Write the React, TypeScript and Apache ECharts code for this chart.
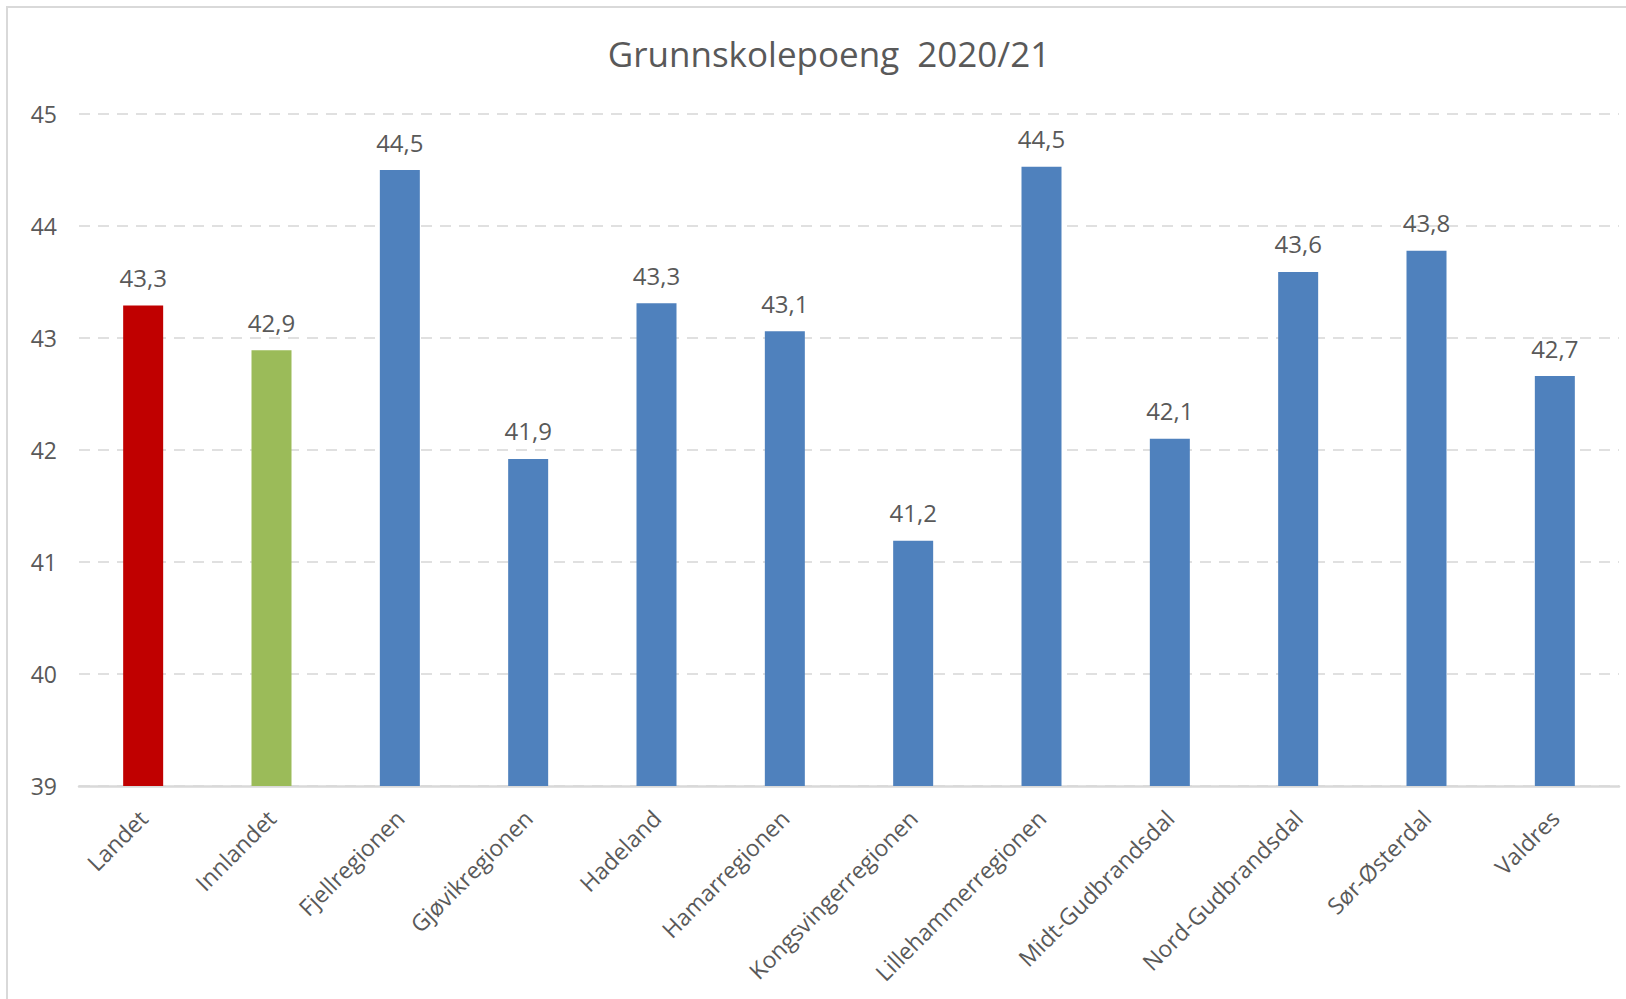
import React, { useEffect, useRef } from "react";
import * as echarts from "echarts";

const TITLE = "Grunnskolepoeng  2020/21";
const categories = [
  "Landet",
  "Innlandet",
  "Fjellregionen",
  "Gjøvikregionen",
  "Hadeland",
  "Hamarregionen",
  "Kongsvingerregionen",
  "Lillehammerregionen",
  "Midt-Gudbrandsdal",
  "Nord-Gudbrandsdal",
  "Sør-Østerdal",
  "Valdres",
];
const values = [43.29, 42.89, 44.5, 41.92, 43.31, 43.06, 41.19, 44.53, 42.1, 43.59, 43.78, 42.66];
const yMin = 39;
const yMax = 45;
const yStep = 1;

const COLOR_NATION = "#C00000";
const COLOR_COUNTY = "#9BBB59";
const COLOR_REGION = "#4F81BD";
const colorFor = (name: string) =>
  name === "Landet" ? COLOR_NATION : name === "Innlandet" ? COLOR_COUNTY : COLOR_REGION;

const TEXT = "#595959";
const FONT = "'Open Sans', sans-serif";

export default function App() {
  const ref = useRef<HTMLDivElement>(null);
  useEffect(() => {
    if (!ref.current) return;
    const chart = echarts.init(ref.current, undefined, { renderer: "svg" });
    chart.setOption({
      animation: false,
      backgroundColor: "#ffffff",
      textStyle: { fontFamily: FONT },
      title: {
        text: TITLE,
        left: 824,
        top: 31,
        textAlign: "center",
        textStyle: { fontFamily: FONT, fontSize: 35, fontWeight: "normal", color: TEXT },
      },
      graphic: [
        {
          type: "rect",
          shape: { x: 7, y: 7, width: 1700, height: 1100 },
          style: { fill: "none", stroke: "#D9D9D9", lineWidth: 2 },
          silent: true,
          z: -1,
        },
      ],
      grid: { left: 79, right: 7, top: 114, bottom: 213, containLabel: false },
      xAxis: {
        type: "category",
        data: categories,
        axisLine: { show: true, lineStyle: { color: "#D9D9D9", width: 2.5 } },
        axisTick: { show: false },
        axisLabel: {
          rotate: 45,
          interval: 0,
          margin: 28,
          fontSize: 23,
          color: TEXT,
          fontFamily: FONT,
        },
      },
      yAxis: {
        type: "value",
        min: yMin,
        max: yMax,
        interval: yStep,
        axisLine: { show: false },
        axisTick: { show: false },
        axisLabel: { fontSize: 23, color: TEXT, margin: 22, fontFamily: FONT },
        splitLine: {
          show: true,
          lineStyle: { color: "#E0E0E0", width: 2, type: [11, 8] },
        },
      },
      series: [
        {
          type: "bar",
          barWidth: 40,
          data: categories.map((c, i) => ({
            value: values[i],
            itemStyle: { color: colorFor(c) },
          })),
          label: {
            show: true,
            position: "top",
            distance: 16,
            fontSize: 24,
            color: TEXT,
            fontFamily: FONT,
            formatter: (p: any) => Number(p.value).toFixed(1).replace(".", ","),
          },
        },
      ],
    });
    return () => chart.dispose();
  }, []);
  return (
    <div
      ref={ref}
      style={{ position: "fixed", left: 0, top: 0, width: 1626, height: 999, background: "#fff" }}
    />
  );
}
